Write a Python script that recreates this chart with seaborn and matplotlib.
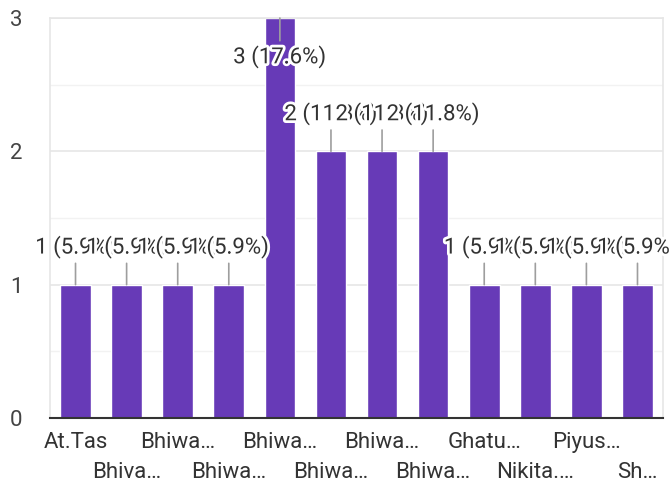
import matplotlib
matplotlib.use("Agg")
import matplotlib.pyplot as plt
import matplotlib.patheffects as pe
import pandas as pd
import seaborn as sns

# data
names = ["At.Tas", "Bhiva…", "Bhiwa…", "Bhiwa…", "Bhiwa…", "Bhiwa…",
         "Bhiwa…", "Bhiwa…", "Ghatu…", "Nikita.…", "Piyus…", "Sh…"]
counts = [1, 1, 1, 1, 3, 2, 2, 2, 1, 1, 1, 1]

df = pd.DataFrame({"pos": range(len(names)), "count": counts})
total = sum(counts)

sns.set_style("white")
plt.rcParams["font.family"] = ["Roboto", "DejaVu Sans"]

fig = plt.figure(figsize=(6.7, 4.87), dpi=100)
ax = fig.add_axes([0.0746, 0.1417, 0.9150, 0.8213])

sns.barplot(data=df, x="pos", y="count", color="#673ab7", saturation=1,
            width=0.6, ax=ax, zorder=2)

ax.set_ylim(0, 3)
ax.set_xlim(-0.5, len(names) - 0.5)

# gridlines
ax.set_yticks([0, 1, 2, 3])
ax.set_yticks([0.5, 1.5, 2.5], minor=True)
ax.grid(axis="y", which="major", color="#e6e6e6", linewidth=1.2, zorder=0)
ax.grid(axis="y", which="minor", color="#f2f2f2", linewidth=1.0, zorder=0)
ax.set_axisbelow(True)

for s in ["left", "top", "right"]:
    ax.spines[s].set_color("#e6e6e6")
    ax.spines[s].set_linewidth(1.2)
ax.spines["bottom"].set_color("#333333")
ax.spines["bottom"].set_linewidth(1.5)
ax.spines["bottom"].set_zorder(3)

ax.tick_params(axis="y", which="both", length=0, pad=20, labelsize=16,
               labelcolor="#444444")
ax.tick_params(axis="x", length=0, pad=10, labelsize=16, labelcolor="#333333")

xlabels = [n if i % 2 == 0 else "\n" + n for i, n in enumerate(names)]
ax.set_xticks(range(len(names)))
ax.set_xticklabels(xlabels, linespacing=1.55, va="top")
ax.set_xlabel("")
ax.set_ylabel("")

# value labels with leader lines
for i, c in enumerate(counts):
    txt = f"{c} ({c / total * 100:.1f}%)"
    off = 27 if c < 3 else -28
    ax.annotate(txt, xy=(i, c), xytext=(0, off), textcoords="offset points",
                ha="center", va="center", fontsize=16, color="#333333",
                arrowprops=dict(arrowstyle="-", color="#9e9e9e", lw=1.2,
                                shrinkA=1, shrinkB=0),
                path_effects=[pe.withStroke(linewidth=4, foreground="white")],
                zorder=4, annotation_clip=False)

fig.savefig("out.png", dpi=100)
